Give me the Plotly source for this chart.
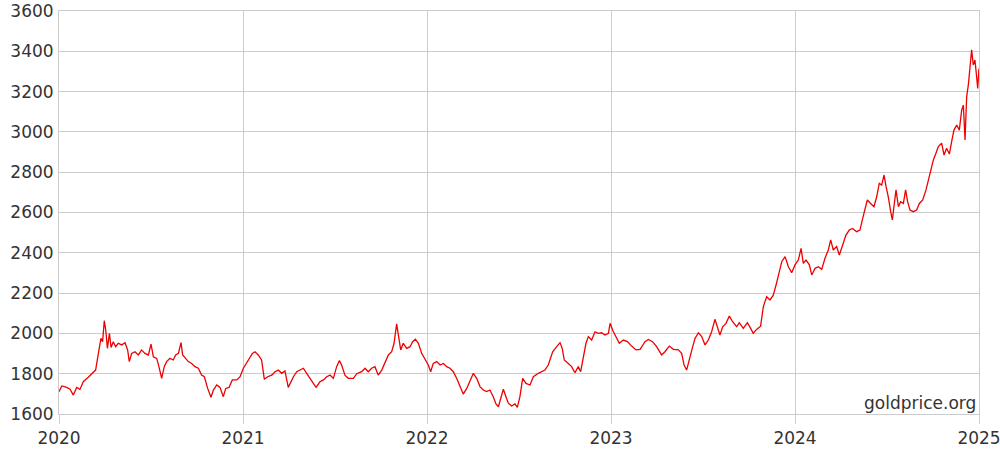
import plotly.graph_objects as go

# Time in years since 1 Jan 2020, and price (USD/oz)
t_2020 = [0.000, 0.015, 0.042, 0.060, 0.078, 0.096, 0.114, 0.132, 0.159, 0.187,
          0.199, 0.214, 0.228, 0.237, 0.246, 0.254, 0.263, 0.274, 0.283, 0.295,
          0.308, 0.322, 0.341, 0.359, 0.373, 0.382, 0.395, 0.413, 0.431, 0.449,
          0.467, 0.486, 0.500, 0.513, 0.531, 0.543, 0.558, 0.572, 0.585, 0.603,
          0.621, 0.634, 0.649, 0.663, 0.672, 0.688, 0.703, 0.721, 0.739, 0.757,
          0.775, 0.790, 0.808, 0.826, 0.839, 0.857, 0.875, 0.893, 0.906, 0.924,
          0.942, 0.966, 0.984]
p_2020 = [1711, 1739, 1732, 1723, 1694, 1732, 1722, 1760, 1782, 1810,
          1818, 1901, 1976, 1959, 2063, 2017, 1926, 2000, 1930, 1959,
          1934, 1951, 1943, 1954, 1918, 1860, 1901, 1909, 1893, 1918,
          1901, 1893, 1947, 1884, 1876, 1835, 1777, 1835, 1860, 1876,
          1868, 1893, 1901, 1954, 1893, 1876, 1860, 1851, 1835, 1827,
          1793, 1785, 1727, 1683, 1719, 1744, 1732, 1686, 1727, 1732,
          1769, 1769, 1785]

t_2021 = [1.002, 1.025, 1.051, 1.065, 1.083, 1.101, 1.116, 1.134, 1.156, 1.174,
          1.192, 1.210, 1.228, 1.246, 1.274, 1.292, 1.310, 1.328, 1.346, 1.364,
          1.382, 1.397, 1.418, 1.437, 1.455, 1.473, 1.491, 1.509, 1.524, 1.536,
          1.554, 1.572, 1.600, 1.618, 1.645, 1.663, 1.681, 1.699, 1.717, 1.735,
          1.754, 1.772, 1.790, 1.808, 1.821, 1.835, 1.844, 1.857, 1.871, 1.890,
          1.908, 1.922, 1.937, 1.953, 1.971, 1.989]
p_2021 = [1827, 1860, 1901, 1909, 1893, 1868, 1772, 1785, 1793, 1810,
          1818, 1802, 1814, 1732, 1785, 1810, 1818, 1827, 1802, 1777,
          1752, 1732, 1760, 1769, 1785, 1793, 1777, 1835, 1865, 1843,
          1793, 1777, 1777, 1800, 1810, 1827, 1810, 1827, 1835, 1793,
          1818, 1860, 1893, 1909, 1951, 2047, 1984, 1918, 1951, 1926,
          1934, 1959, 1971, 1951, 1901, 1868]

t_2022 = [2.007, 2.020, 2.034, 2.053, 2.071, 2.089, 2.107, 2.125, 2.143, 2.161,
          2.179, 2.197, 2.216, 2.234, 2.252, 2.270, 2.288, 2.306, 2.324, 2.342,
          2.360, 2.375, 2.388, 2.401, 2.415, 2.429, 2.442, 2.460, 2.478, 2.491,
          2.505, 2.520, 2.538, 2.560, 2.578, 2.605, 2.641, 2.659, 2.683, 2.705,
          2.723, 2.735, 2.746, 2.768, 2.786, 2.804, 2.822, 2.835, 2.850, 2.864,
          2.877, 2.895, 2.913, 2.931, 2.949, 2.967, 2.986, 2.995]
p_2022 = [1843, 1810, 1851, 1860, 1843, 1851, 1835, 1827, 1810, 1777,
          1736, 1699, 1727, 1769, 1802, 1777, 1736, 1719, 1711, 1719,
          1686, 1650, 1636, 1678, 1723, 1686, 1654, 1640, 1650, 1633,
          1686, 1777, 1752, 1744, 1785, 1802, 1818, 1843, 1909, 1934,
          1954, 1926, 1868, 1851, 1835, 1805, 1835, 1810, 1884, 1951,
          1984, 1967, 2008, 2000, 2003, 1992, 2000, 2050]

t_2023 = [3.009, 3.027, 3.045, 3.067, 3.089, 3.112, 3.136, 3.158, 3.185, 3.203,
          3.226, 3.248, 3.275, 3.293, 3.317, 3.339, 3.366, 3.384, 3.397, 3.411,
          3.426, 3.444, 3.457, 3.475, 3.493, 3.511, 3.529, 3.547, 3.565, 3.578,
          3.592, 3.607, 3.625, 3.643, 3.661, 3.683, 3.697, 3.719, 3.741, 3.759,
          3.773, 3.791, 3.813, 3.828, 3.846, 3.864, 3.882, 3.897, 3.909, 3.928,
          3.946, 3.964, 3.982]
p_2023 = [2016, 1984, 1951, 1967, 1959, 1937, 1918, 1921, 1959, 1970,
          1959, 1934, 1893, 1909, 1937, 1921, 1918, 1901, 1843, 1818,
          1876, 1934, 1976, 2003, 1984, 1943, 1967, 2008, 2070, 2033,
          1992, 2033, 2050, 2086, 2058, 2033, 2053, 2025, 2053, 2025,
          2000, 2020, 2036, 2133, 2182, 2166, 2190, 2240, 2290, 2356,
          2381, 2331, 2301]

t_2024 = [4.000, 4.018, 4.033, 4.045, 4.060, 4.078, 4.091, 4.109, 4.127, 4.145,
          4.163, 4.181, 4.194, 4.208, 4.226, 4.241, 4.259, 4.277, 4.295, 4.313,
          4.335, 4.353, 4.368, 4.380, 4.393, 4.411, 4.429, 4.444, 4.458, 4.471,
          4.484, 4.495, 4.507, 4.520, 4.529, 4.540, 4.549, 4.562, 4.574, 4.589,
          4.601, 4.612, 4.625, 4.643, 4.661, 4.676, 4.694, 4.712, 4.724, 4.737,
          4.752, 4.766, 4.779, 4.797, 4.810, 4.824, 4.839, 4.851, 4.864, 4.879,
          4.893, 4.906, 4.915, 4.924, 4.933, 4.942, 4.951, 4.960, 4.969, 4.978,
          4.987, 4.993, 5.000]
p_2024 = [2340, 2364, 2422, 2348, 2364, 2340, 2290, 2323, 2331, 2318,
          2373, 2414, 2464, 2414, 2431, 2389, 2439, 2488, 2513, 2521,
          2505, 2513, 2571, 2612, 2662, 2645, 2629, 2678, 2745, 2736,
          2786, 2728, 2678, 2604, 2563, 2645, 2712, 2629, 2654, 2645,
          2712, 2654, 2612, 2604, 2612, 2645, 2662, 2712, 2753, 2811,
          2861, 2894, 2927, 2944, 2885, 2919, 2890, 2951, 3009, 3034,
          3009, 3109, 3133, 2960, 3175, 3233, 3324, 3407, 3332, 3357,
          3274, 3216, 3315]

START_YEAR = 2020
year_ticks = [2020, 2021, 2022, 2023, 2024, 2025]
price_ticks = [1600, 1800, 2000, 2200, 2400, 2600, 2800, 3000, 3200, 3400, 3600]
watermark = "goldprice.org"

t_all = t_2020 + t_2021 + t_2022 + t_2023 + t_2024
p_all = p_2020 + p_2021 + p_2022 + p_2023 + p_2024
assert len(t_all) == len(p_all)
x_vals = [START_YEAR + v for v in t_all]

FONT = "DejaVu Sans"
GRID = "#cccccc"
TXT = "#333333"
FS = 17

fig = go.Figure()
fig.add_trace(go.Scatter(
    x=x_vals, y=p_all, mode="lines",
    line=dict(color="#ee0000", width=1.3),
    showlegend=False, hoverinfo="x+y",
))

fig.update_layout(
    width=1000, height=463,
    margin=dict(l=59, r=21, t=11, b=49, autoexpand=False),
    paper_bgcolor="white", plot_bgcolor="white",
    font=dict(family=FONT, size=FS, color=TXT),
    xaxis=dict(
        range=[year_ticks[0], year_ticks[-1]],
        tickvals=year_ticks, ticktext=[str(y) for y in year_ticks],
        ticks="outside", ticklen=9, tickwidth=1, tickcolor=GRID,
        showgrid=True, gridcolor=GRID, gridwidth=1,
        showline=True, linecolor=GRID, linewidth=1, mirror=True,
        zeroline=False, automargin=False, ticklabeloverflow="allow",
        tickfont=dict(family=FONT, size=FS, color=TXT),
    ),
    yaxis=dict(
        range=[price_ticks[0], price_ticks[-1]],
        tickvals=price_ticks, ticktext=[str(v) for v in price_ticks],
        ticks="", ticklabelstandoff=1,
        showgrid=True, gridcolor=GRID, gridwidth=1,
        showline=True, linecolor=GRID, linewidth=1, mirror=True,
        zeroline=False, automargin=False, ticklabeloverflow="allow",
        tickfont=dict(family=FONT, size=FS, color=TXT),
    ),
    annotations=[dict(
        text=watermark, xref="paper", yref="paper", x=1, y=0,
        xanchor="right", yanchor="bottom", showarrow=False,
        xshift=-1, yshift=-1,
        font=dict(family=FONT, size=FS, color=TXT),
    )],
)

# remove the browser's default 8px body margin so the figure fills the window
fig.write_html("out.html", config={"displayModeBar": False},
               post_script="document.body.style.margin='0';")
